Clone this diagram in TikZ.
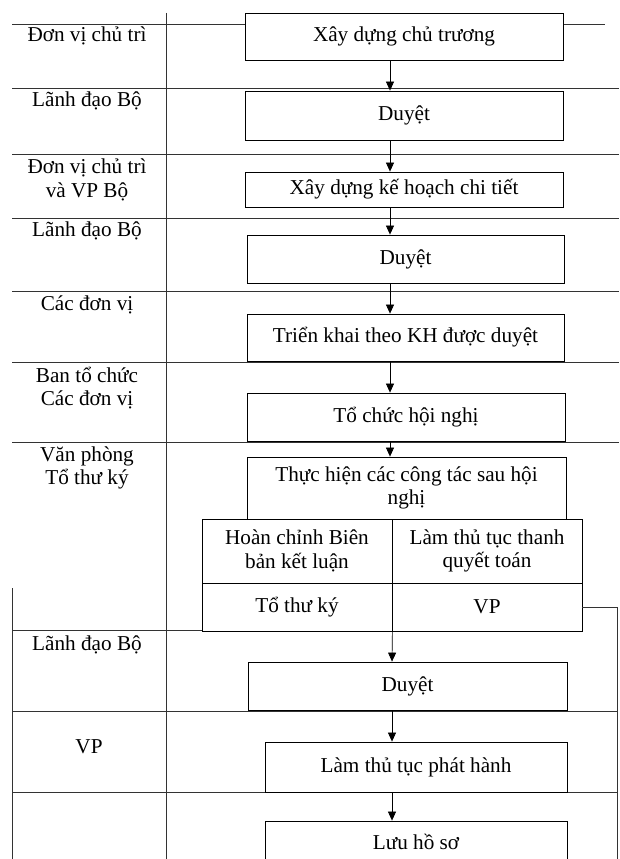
\documentclass[tikz,border=0pt]{standalone}
\usepackage{fontspec}
\setmainfont{Liberation Serif}
\usetikzlibrary{arrows.meta}
\newcommand{\flowfont}{\fontsize{21.2}{23.5}\selectfont}
\begin{document}
\begin{tikzpicture}[x=1pt,y=-1pt,
  lane/.style={line width=0.7pt, black!80},
  flowbox/.style={draw, fill=white, line width=0.8pt, inner sep=0pt, align=center, font=\flowfont},
  lanelabel/.style={inner sep=0pt, align=center, font=\flowfont},
  arr/.style={line width=0.7pt, -{Triangle[length=9pt,width=8pt]}}]
\clip (0,0) rectangle (619,859);
\fill[white] (0,0) rectangle (619,859);
% swimlane frame
\draw[lane] (166,13) -- (166,859);
\draw[lane] (12,24) -- (605,24);
\foreach \yy in {88,154,218,291,362,442} \draw[lane] (12,\yy) -- (619,\yy);
\draw[lane] (12,630) -- (202,630);
\draw[lane] (12,711) -- (617,711);
\draw[lane] (12,792) -- (617,792);
\draw[lane] (12,588) -- (12,859);
% lane labels
\node[lanelabel] (l1) at (87,36) {Đơn vị chủ trì};
\node[lanelabel] (l2) at (87,101) {Lãnh đạo Bộ};
\node[lanelabel] (l3) at (87,180) {Đơn vị chủ trì\\và VP Bộ};
\node[lanelabel] (l4) at (87,231) {Lãnh đạo Bộ};
\node[lanelabel] (l5) at (87,305) {Các đơn vị};
\node[lanelabel] (l6) at (87,388) {Ban tổ chức\\Các đơn vị};
\node[lanelabel] (l7) at (87,468) {Văn phòng\\Tổ thư ký};
\node[lanelabel] (l8) at (87,645) {Lãnh đạo Bộ};
\node[lanelabel] (l9) at (89,747) {VP};
% boxes
\node[flowbox, minimum width=318pt, minimum height=47pt] (b1) at (404,36.5) {Xây dựng chủ trương};
\node[flowbox, minimum width=318pt, minimum height=49pt] (b2) at (404,115.5) {Duyệt};
\node[flowbox, minimum width=318pt, minimum height=35pt] (b3) at (404,189.5) {Xây dựng kế hoạch chi tiết};
\node[flowbox, minimum width=317pt, minimum height=48pt] (b4) at (405.5,259) {Duyệt};
\node[flowbox, minimum width=317pt, minimum height=47pt] (b5) at (405.5,337.5) {Triển khai theo KH được duyệt};
\node[flowbox, minimum width=318pt, minimum height=48pt] (b6) at (406,417) {Tổ chức hội nghị};
\node[flowbox, minimum width=319pt, minimum height=62pt] (b7) at (406.5,488) {Thực hiện các công tác sau hội\\nghị};
\node[flowbox, minimum width=190pt, minimum height=64pt] (c11) at (297,551) {Hoàn chỉnh Biên\\bản kết luận};
\node[flowbox, minimum width=190pt, minimum height=64pt] (c12) at (487,551) {Làm thủ tục thanh\\quyết toán};
\node[flowbox, minimum width=190pt, minimum height=48pt] (c21) at (297,607) {Tổ thư ký};
\node[flowbox, minimum width=190pt, minimum height=48pt] (c22) at (487,607) {VP};
\node[flowbox, minimum width=319pt, minimum height=48pt] (b9) at (407.5,686) {Duyệt};
\node[flowbox, minimum width=302pt, minimum height=50pt] (b10) at (416,767) {Làm thủ tục phát hành};
\node[flowbox, minimum width=302pt, minimum height=41pt] (b11) at (416,841.5) {Lưu hồ sơ};
% arrows
\coordinate (ax) at (390,0);
\coordinate (bx) at (392,0);
\coordinate (rc) at (617,859);
\draw[arr] (b1.south -| ax) -- (b2.north -| ax);
\draw[arr] (b2.south -| ax) -- (b3.north -| ax);
\draw[arr] (b3.south -| ax) -- (b4.north -| ax);
\draw[arr] (b4.south -| ax) -- (b5.north -| ax);
\draw[arr] (b5.south -| ax) -- (b6.north -| ax);
\draw[arr] (b6.south -| ax) -- (b7.north -| ax);
\draw[arr] (c21.south east) -- (b9.north -| bx);
\draw[arr] (b9.south -| bx) -- (b10.north -| bx);
\draw[arr] (b10.south -| bx) -- (b11.north -| bx);
\draw[lane] (c22.east) -| (rc);
\end{tikzpicture}
\end{document}
